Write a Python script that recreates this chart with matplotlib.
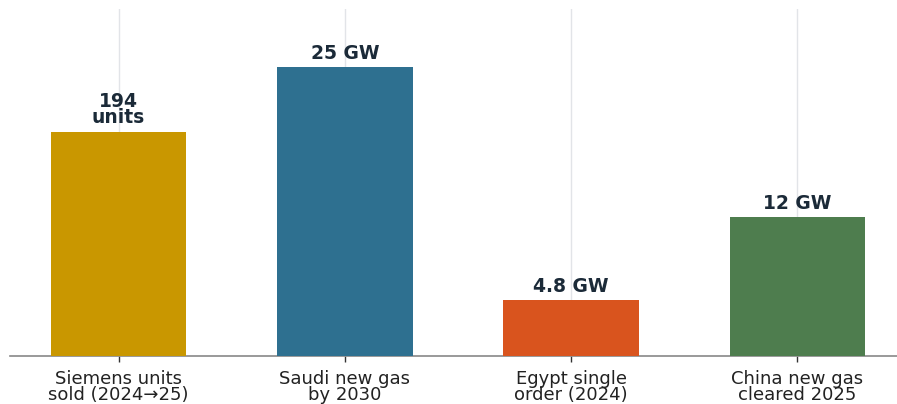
import matplotlib
matplotlib.use("Agg")
import matplotlib.pyplot as plt

# Categories and values
categories = ["Siemens units\nsold (2024\u219225)", "Saudi new gas\nby 2030",
              "Egypt single\norder (2024)", "China new gas\ncleared 2025"]
values = [194, 25, 4.8, 12]
# Siemens unit count is drawn at 1/10 scale so it sits alongside the GW bars
scale = [0.1, 1, 1, 1]
value_labels = ["194\nunits", "25 GW", "4.8 GW", "12 GW"]
colors = ["#C99700", "#2E7090", "#D9541E", "#4E7D4E"]

heights = [v * s for v, s in zip(values, scale)]

fig = plt.figure(figsize=(8.97, 4.04), dpi=100)
ax = fig.add_axes([10 / 897, 48 / 404, 887 / 897, 347 / 404])

x = list(range(len(categories)))
ax.bar(x, heights, width=0.6, color=colors, zorder=3)

for xi, h, lab in zip(x, heights, value_labels):
    ax.annotate(lab, (xi, h), xytext=(0, 3), textcoords="offset points",
                ha="center", va="bottom", fontsize=13.5, fontweight="bold",
                color="#1B2A38", linespacing=0.85, zorder=4)

ax.set_xlim(-0.48, 3.44)
ax.set_ylim(0, 30)
ax.set_xticks(x)
ax.set_xticklabels(categories, fontsize=13, color="#222222", linespacing=0.85)
ax.tick_params(axis="x", length=4, width=1, color="#333333", pad=6)
ax.set_yticks([])

ax.grid(axis="x", color="#E2E4E8", linewidth=1, zorder=0)
for side in ("top", "right", "left"):
    ax.spines[side].set_visible(False)
ax.spines["bottom"].set_color("#888888")
ax.spines["bottom"].set_linewidth(1.2)

fig.savefig("out.png", dpi=100)
